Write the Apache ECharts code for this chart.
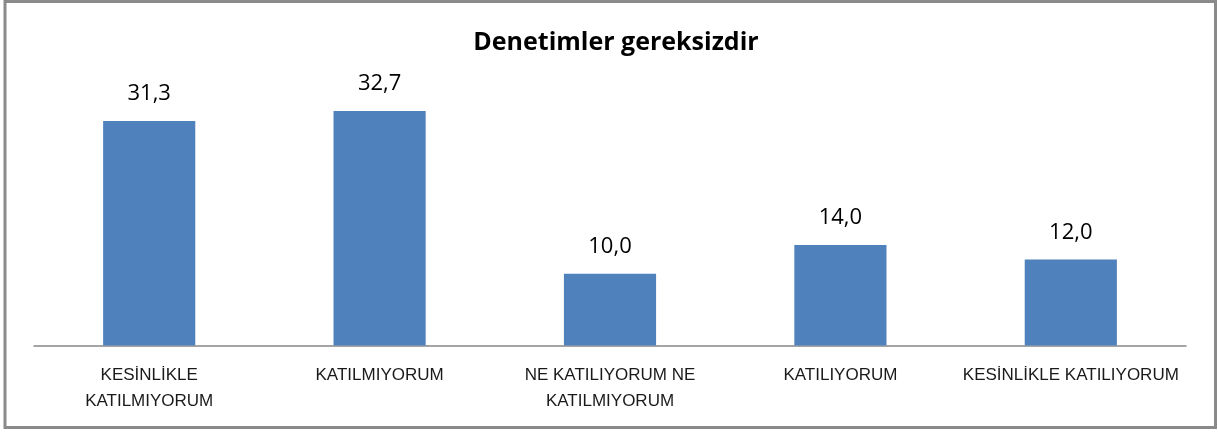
<!DOCTYPE html>
<html>
<head>
<meta charset="utf-8">
<script src="https://cdn.jsdelivr.net/npm/echarts@6/dist/echarts.min.js"></script>
<style>
html,body{margin:0;padding:0;background:#fff;}
#chart{width:1218px;height:433px;}
</style>
</head>
<body>
<div id="chart"></div>
<script>
const titleText = 'Denetimler gereksizdir';
const categories = ['KESİNLİKLE\nKATILMIYORUM', 'KATILMIYORUM', 'NE KATILIYORUM NE\nKATILMIYORUM', 'KATILIYORUM', 'KESİNLİKLE KATILIYORUM'];
const values = [31.3, 32.7, 10.0, 14.0, 12.0];

const chart = echarts.init(document.getElementById('chart'), null, {renderer: 'canvas'});
chart.setOption({
  animation: false,
  backgroundColor: '#ffffff',
  title: {
    text: titleText,
    left: 611,
    textAlign: 'center',
    top: 25,
    textStyle: {fontFamily: 'Open Sans', fontWeight: 'bold', fontSize: 25, color: '#000'}
  },
  graphic: [{
    type: 'rect',
    shape: {x: 5, y: 1.5, width: 1210.5, height: 426},
    style: {fill: 'none', stroke: '#8a8a8a', lineWidth: 3},
    silent: true
  }],
  grid: {left: 34, right: 32, top: 94.5, bottom: 87.5, containLabel: false},
  xAxis: {
    type: 'category',
    data: categories,
    axisLine: {show: true, lineStyle: {color: '#868686', width: 1.5}},
    axisTick: {show: false},
    axisLabel: {
      interval: 0,
      margin: 17,
      fontFamily: 'Liberation Sans',
      fontSize: 17,
      lineHeight: 26,
      color: '#1a1a1a'
    }
  },
  yAxis: {
    type: 'value',
    min: 0,
    max: 35,
    show: false,
    splitLine: {show: false}
  },
  series: [{
    type: 'bar',
    data: values,
    barWidth: '40%',
    itemStyle: {color: '#4F81BD'},
    label: {
      show: true,
      position: 'top',
      distance: 16,
      fontFamily: 'Open Sans',
      fontSize: 22,
      color: '#000',
      formatter: p => p.value.toFixed(1).replace('.', ',')
    }
  }]
});
</script>
</body>
</html>
